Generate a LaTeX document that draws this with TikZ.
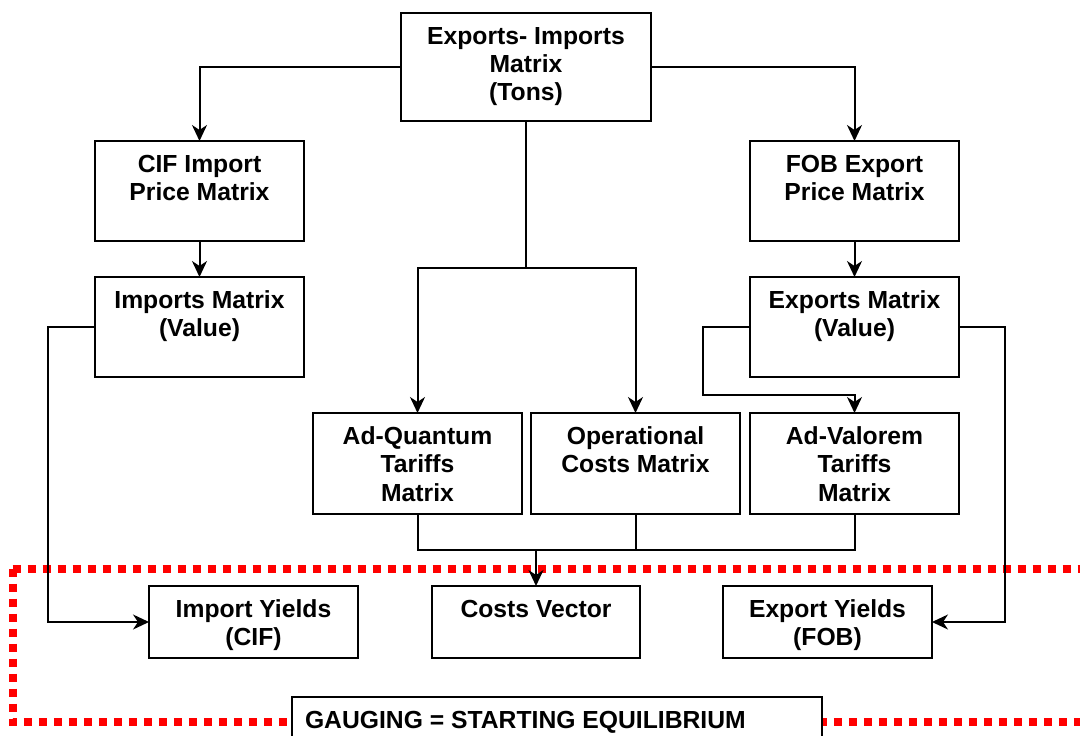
\documentclass[tikz,border=0pt]{standalone}
\usepackage{fontspec}
\setmainfont{Liberation Sans}
\usetikzlibrary{arrows.meta}

% box text: width, height, content (top aligned, centred lines)
\newcommand{\celltext}[3]{\parbox[c][#2pt][t]{#1pt}{\centering\rule{0pt}{31pt}#3}}

\tikzset{
  cell/.style={draw, line width=2.2pt, fill=white, inner sep=0pt, outer sep=0pt,
               font=\bfseries\fontsize{24.7pt}{28.5pt}\selectfont},
  link/.style={line width=2pt},
  arr/.style={link, -{Stealth[length=16pt, width=15pt, inset=5pt]}},
  redline/.style={draw=red, line width=8pt, dash pattern=on 8pt off 7pt}
}

\begin{document}
\begin{tikzpicture}[x=1pt, y=-1pt]
\useasboundingbox (0,0) rectangle (1080,736);
\clip (0,0) rectangle (1080,736);

% calibration boundary
\draw[redline] (12.7,568.5) -- (1090,568.5);
\draw[redline] (12.7,568.5) -- (12.7,722.3) -- (1090,722.3);

% boxes
\node[cell] (top) at (526,67)    {\celltext{250}{108}{Exports- Imports\\Matrix\\(Tons)}};
\node[cell] (cif) at (199.5,191) {\celltext{209}{100}{CIF Import\\Price Matrix}};
\node[cell] (fob) at (854.5,191) {\celltext{209}{100}{FOB Export\\Price Matrix}};
\node[cell] (imp) at (199.5,327) {\celltext{209}{100}{Imports Matrix\\(Value)}};
\node[cell] (exm) at (854.5,327) {\celltext{209}{100}{Exports Matrix\\(Value)}};
\node[cell] (adq) at (417.5,463.5) {\celltext{209}{101}{Ad-Quantum\\Tariffs\\Matrix}};
\node[cell] (opc) at (635.5,463.5) {\celltext{209}{101}{Operational\\Costs Matrix}};
\node[cell] (adv) at (854.5,463.5) {\celltext{209}{101}{Ad-Valorem\\Tariffs\\Matrix}};
\node[cell] (iy)  at (253.5,622) {\celltext{209}{72}{Import Yields\\(CIF)}};
\node[cell] (cv)  at (536,622)   {\celltext{208}{72}{Costs Vector}};
\node[cell] (ey)  at (827.5,622) {\celltext{209}{72}{Export Yields\\(FOB)}};
\node[cell] (gauge) at (557,722) {\parbox[c][50pt][t]{530pt}{\raggedright\hspace*{13pt}\rule{0pt}{31pt}GAUGING = STARTING EQUILIBRIUM}};

% junction points
\coordinate (split) at (526,268);
\coordinate (merge) at (536,550);

% connectors
\draw[arr] (top.west) -| (cif.north);
\draw[arr] (top.east) -| (fob.north);
\draw[link] (top.south) -- (split);
\draw[arr] (split) -| (adq.north);
\draw[arr] (split) -| (opc.north);
\draw[arr] (cif.south) -- (imp.north);
\draw[arr] (fob.south) -- (exm.north);
\draw[arr] (imp.west) -- (48,327) |- (iy.west);
\draw[arr] (exm.east) -- (1005,327) |- (ey.east);
\draw[arr] (exm.west) -- (703,327) -- (703,395) -| (adv.north);
\draw[link] (adq.south) |- (merge) -| (adv.south);
\draw[link] (opc.south) -- (opc.south |- merge);
\draw[arr] (merge) -- (cv.north);
\end{tikzpicture}
\end{document}
